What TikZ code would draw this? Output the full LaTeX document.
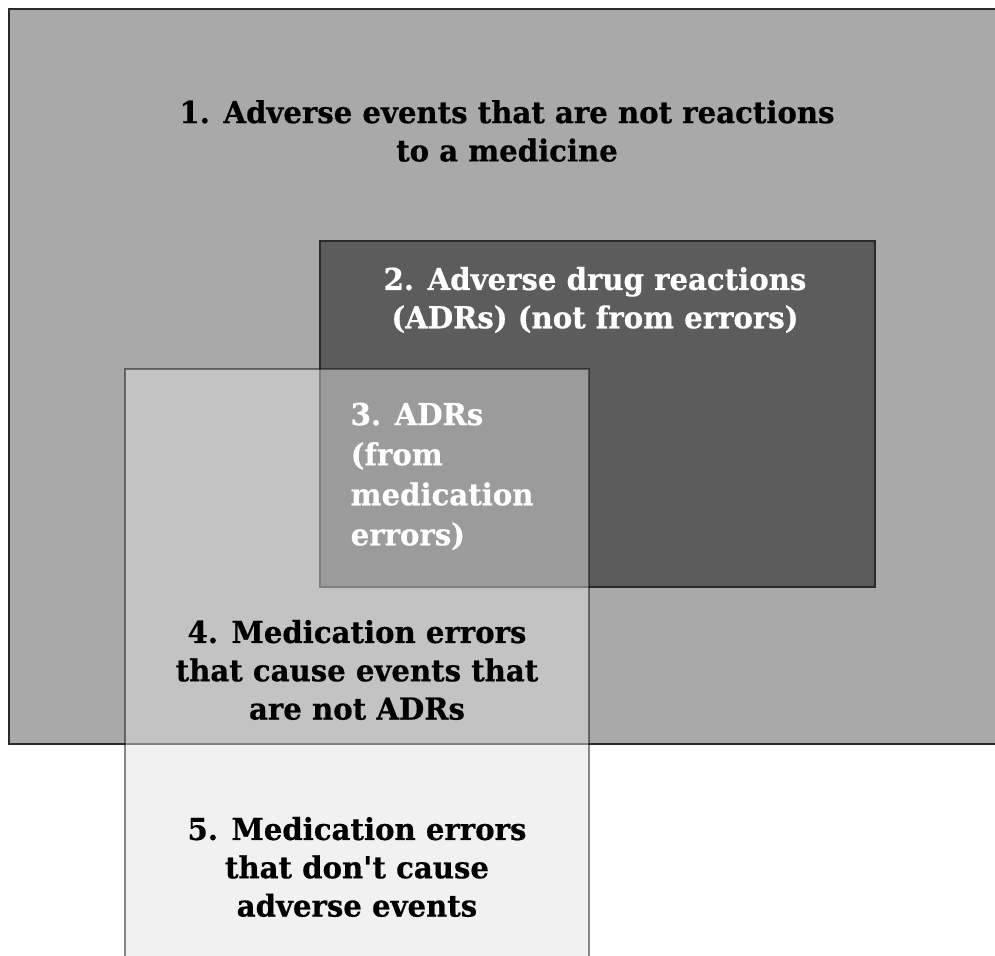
\documentclass[tikz,border=0pt]{standalone}
\usepackage{fontspec}
\setmainfont{DejaVu Serif}[FakeStretch=0.965, BoldFeatures={FakeBold=0.6}]
\usepackage{tikz}

\definecolor{outergray}{HTML}{A9A9A9}
\definecolor{adrgray}{HTML}{5C5C5C}
\definecolor{errgray}{HTML}{E2E2E2}
\definecolor{edgegray}{HTML}{2A2A2A}

\begin{document}
\begin{tikzpicture}[
    lbl/.style={font=\bfseries\fontsize{8.6}{10.9}\selectfont, align=center, inner sep=0pt},
  ]
        \useasboundingbox (0,0) rectangle (9.95,9.56);
        \clip (0,0) rectangle (9.95,9.56);
        % the three sets
        \draw[edgegray, line width=0.8pt, fill=outergray] (0.09,9.47) rectangle (10.3,2.12);
        \draw[edgegray, line width=0.8pt, fill=adrgray] (3.20,7.15) rectangle (8.75,3.69);
        \draw[black, line width=0.8pt, draw opacity=0.45, fill=errgray, fill opacity=0.47] (1.25,5.87) rectangle (5.89,-0.3);
        % labels
        \node[lbl] (l1) at (5.07,8.25) {1. Adverse events that are not reactions\\to a medicine};
        \node[lbl, text=white] (l2) at (5.95,6.56) {2. Adverse drug reactions\\(ADRs) (not from errors)};
        \node[lbl, text=white, align=left, anchor=north west, font=\bfseries\fontsize{8.6}{11.4}\selectfont] (l3) at (3.50,5.54) {3. ADRs\\(from\\medication\\errors)};
        \node[lbl] (l4) at (3.57,2.86) {4. Medication errors\\that cause events that\\are not ADRs};
        \node[lbl] (l5) at (3.57,0.89) {5. Medication errors\\that don\textquotesingle t cause\\adverse events};
    \end{tikzpicture}
\end{document}
